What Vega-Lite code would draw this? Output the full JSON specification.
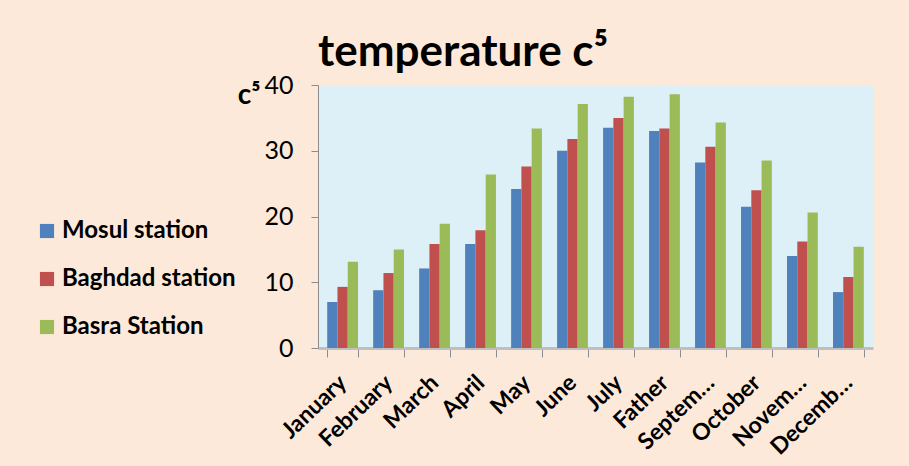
{
  "$schema": "https://vega.github.io/schema/vega-lite/v6.json",
  "autosize": {"type": "none"},
  "width": 555,
  "height": 263,
  "padding": {"left": 318, "top": 85, "right": 36, "bottom": 118},
  "background": "#FDE9D9",
  "config": {
    "font": "Lato",
    "view": {"stroke": null, "fill": "#DDF0F7"}
  },
  "title": {
    "text": "temperature c⁵",
    "anchor": "start",
    "frame": "group",
    "fontSize": 44,
    "fontWeight": "bold",
    "font": "Lato",
    "color": "#000000",
    "offset": -2,
    "dx": 0
  },
  "data": {
    "values": [
      {"month": "January", "station": "Mosul station", "temp": 7.0},
      {"month": "January", "station": "Baghdad station", "temp": 9.3},
      {"month": "January", "station": "Basra Station", "temp": 13.1},
      {"month": "February", "station": "Mosul station", "temp": 8.8},
      {"month": "February", "station": "Baghdad station", "temp": 11.4},
      {"month": "February", "station": "Basra Station", "temp": 15.0},
      {"month": "March", "station": "Mosul station", "temp": 12.1},
      {"month": "March", "station": "Baghdad station", "temp": 15.8},
      {"month": "March", "station": "Basra Station", "temp": 18.9},
      {"month": "April", "station": "Mosul station", "temp": 15.8},
      {"month": "April", "station": "Baghdad station", "temp": 17.9},
      {"month": "April", "station": "Basra Station", "temp": 26.4},
      {"month": "May", "station": "Mosul station", "temp": 24.2},
      {"month": "May", "station": "Baghdad station", "temp": 27.6},
      {"month": "May", "station": "Basra Station", "temp": 33.4},
      {"month": "June", "station": "Mosul station", "temp": 30.0},
      {"month": "June", "station": "Baghdad station", "temp": 31.8},
      {"month": "June", "station": "Basra Station", "temp": 37.1},
      {"month": "July", "station": "Mosul station", "temp": 33.5},
      {"month": "July", "station": "Baghdad station", "temp": 35.0},
      {"month": "July", "station": "Basra Station", "temp": 38.2},
      {"month": "Father", "station": "Mosul station", "temp": 33.0},
      {"month": "Father", "station": "Baghdad station", "temp": 33.4},
      {"month": "Father", "station": "Basra Station", "temp": 38.6},
      {"month": "Septem…", "station": "Mosul station", "temp": 28.2},
      {"month": "Septem…", "station": "Baghdad station", "temp": 30.6},
      {"month": "Septem…", "station": "Basra Station", "temp": 34.3},
      {"month": "October", "station": "Mosul station", "temp": 21.5},
      {"month": "October", "station": "Baghdad station", "temp": 24.0},
      {"month": "October", "station": "Basra Station", "temp": 28.5},
      {"month": "Novem…", "station": "Mosul station", "temp": 14.0},
      {"month": "Novem…", "station": "Baghdad station", "temp": 16.2},
      {"month": "Novem…", "station": "Basra Station", "temp": 20.6},
      {"month": "Decemb…", "station": "Mosul station", "temp": 8.5},
      {"month": "Decemb…", "station": "Baghdad station", "temp": 10.8},
      {"month": "Decemb…", "station": "Basra Station", "temp": 15.4}
    ]
  },
  "mark": {"type": "bar"},
  "encoding": {
    "x": {
      "field": "month",
      "type": "nominal",
      "sort": null,
      "scale": {"paddingInner": 0.33, "paddingOuter": 0.2},
      "axis": {
        "title": null,
        "labelAngle": -44,
        "labelAlign": "right",
        "labelBaseline": "middle",
        "labelFontSize": 23,
        "labelFontWeight": "bold",
        "labelColor": "#000000",
        "labelPadding": 22,
        "tickBand": "extent",
        "tickSize": 9,
        "tickColor": "#8c8c8c",
        "domainColor": "#bfbfbf",
        "domainWidth": 3,
        "labelOverlap": false
      }
    },
    "xOffset": {
      "field": "station",
      "type": "nominal",
      "sort": ["Mosul station", "Baghdad station", "Basra Station"]
    },
    "y": {
      "field": "temp",
      "type": "quantitative",
      "scale": {"domain": [0, 40]},
      "axis": {
        "values": [0, 10, 20, 30, 40],
        "grid": false,
        "title": "c⁵",
        "titleAngle": 0,
        "titleFontSize": 28,
        "titleFontWeight": "bold",
        "titleColor": "#000000",
        "titleX": -58,
        "titleY": 18,
        "titleAlign": "right",
        "titleBaseline": "alphabetic",
        "labelFontSize": 25,
        "labelColor": "#000000",
        "labelPadding": 18,
        "tickSize": 7,
        "tickColor": "#8c8c8c",
        "domainColor": "#8c8c8c"
      }
    },
    "color": {
      "field": "station",
      "type": "nominal",
      "sort": ["Mosul station", "Baghdad station", "Basra Station"],
      "scale": {"range": ["#4F81BD", "#C0504D", "#9BBB59"]},
      "legend": {
        "title": null,
        "orient": "none",
        "legendX": -283,
        "legendY": 134,
        "symbolType": "square",
        "symbolSize": 200,
        "symbolStrokeWidth": 0,
        "labelFontSize": 24,
        "labelFontWeight": "bold",
        "labelColor": "#000000",
        "labelLimit": 400,
        "rowPadding": 24,
        "labelOffset": 3
      }
    }
  }
}
